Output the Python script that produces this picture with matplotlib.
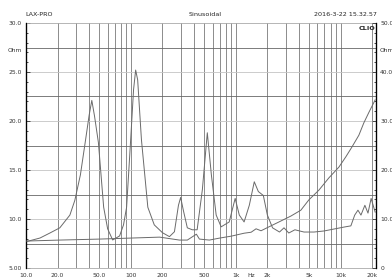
import matplotlib
matplotlib.use('Agg')
import matplotlib.pyplot as plt
from matplotlib.ticker import FixedLocator, NullFormatter, MultipleLocator

# impedance curve 1 (left axis, Ohm)
freq_a = [10, 13.6, 16.9, 21, 26.2, 29.2, 33, 37, 40, 42.4, 45, 49, 55, 60, 67, 78, 85, 91,
          99.5, 106, 111, 116, 126, 145, 167, 200, 233, 260, 284, 298, 316, 345, 385,
          428, 480, 535, 585, 650, 725, 865, 986, 1080, 1200, 1345, 1500, 1640, 1830,
          2000, 2240, 2610, 2880, 3200, 3660, 4470, 5570, 6950, 8660, 10800, 12500,
          13600, 14600, 15600, 17000, 18200, 19500, 21300]
ohm_a = [7.68, 8.06, 8.57, 9.1, 10.4, 11.9, 14.5, 18.1, 20.6, 22.1, 20.5, 17.8, 11.2, 9.0, 7.86,
         8.27, 9.4, 11.2, 18.1, 23.2, 25.2, 24.2, 18.1, 11.2, 9.4, 8.6, 8.2, 8.7, 11.4,
         12.2, 10.9, 9.1, 8.9, 8.9, 13.0, 18.8, 14.5, 10.4, 9.2, 9.7, 12.1, 10.4, 9.7,
         11.4, 13.8, 12.8, 12.4, 10.4, 9.1, 8.67, 9.1, 8.57, 8.9, 8.67, 8.67, 8.78, 8.98,
         9.18, 9.3, 10.4, 10.9, 10.4, 11.4, 10.6, 12.1, 10.7]

# impedance curve 2 (right axis, Ohm)
freq_b = [10, 21, 50, 97, 188, 290, 345, 394, 421, 450, 560, 698, 905, 1200, 1400, 1560,
          1740, 2070, 2580, 3350, 4170, 4970, 6200, 7720, 9620, 11200, 12800, 14900,
          16600, 18600, 21300]
ohm_b = [5.5, 5.7, 5.9, 6.1, 6.3, 5.7, 5.7, 6.5, 6.9, 5.9, 5.7, 6.1, 6.5, 7.1, 7.3, 8.0,
         7.6, 8.4, 9.4, 10.6, 11.8, 13.9, 15.9, 18.4, 20.6, 22.7, 24.7, 27.1, 29.6, 31.8,
         34.3]

xtick_vals = [10, 20, 50, 100, 200, 500, 1000, 1400, 2000, 5000, 10000, 20000]
xtick_text = ['10.0', '20.0', '50.0', '100', '200', '500', '1k', 'Hz', '2k', '5k', '10k', '20k']
left_vals = [5, 10, 15, 20, 25, 30]
left_text = ['5.00', '10.0', '15.0', '20.0', '25.0', '30.0']
right_vals = [0, 10, 20, 30, 40, 50]
right_text = ['0', '10.0', '20.0', '30.0', '40.0', '50.0']

fig = plt.figure(figsize=(3.92, 2.77), dpi=100)
ax = fig.add_axes([26 / 392, 9 / 277, 350 / 392, 245 / 277])
ax.set_xscale('log')
ax.set_xlim(10, 21700)
ax.set_ylim(5, 30)

# grid
for dec in [10, 100, 1000, 10000]:
    for m in range(1, 10):
        f = dec * m
        if 10 < f < 21700:
            ax.axvline(f, color='#7a7a7a', lw=0.6, zorder=1)
for i, v in enumerate([7.5, 10, 12.5, 15, 17.5, 20, 22.5, 25, 27.5]):
    c = '#666666' if i % 2 == 0 else '#c4c4c4'
    ax.axhline(v, color=c, lw=0.6, zorder=1)

ax.plot(freq_a, ohm_a, color='#6a6a6a', lw=0.7, zorder=3)

ax2 = ax.twinx()
ax2.set_ylim(0, 50)
ax2.plot(freq_b, ohm_b, color='#6a6a6a', lw=0.7, zorder=3)

for s in ['top', 'bottom']:
    ax.spines[s].set_color('#aaaaaa')
    ax.spines[s].set_linewidth(0.6)
    ax2.spines[s].set_visible(False)
ax.spines['left'].set_linewidth(0.9)
ax2.spines['right'].set_linewidth(0.9)

ax.xaxis.set_major_locator(FixedLocator(xtick_vals))
ax.xaxis.set_minor_formatter(NullFormatter())
ax.set_xticklabels(xtick_text)
ax.tick_params(axis='x', which='both', length=0, labelsize=4.3, pad=3.5, colors='#333333')

ax.set_yticks(left_vals)
ax.set_yticklabels(left_text)
ax.yaxis.set_minor_locator(MultipleLocator(1))
ax.tick_params(axis='y', which='major', direction='in', length=3, width=0.6,
               labelsize=4.3, pad=3, colors='#333333')
ax.tick_params(axis='y', which='minor', direction='in', length=1.5, width=0.5)

ax2.set_yticks(right_vals)
ax2.set_yticklabels(right_text)
ax2.yaxis.set_minor_locator(MultipleLocator(2))
ax2.tick_params(axis='y', which='major', direction='in', length=3, width=0.6,
                labelsize=4.3, pad=3, colors='#333333')
ax2.tick_params(axis='y', which='minor', direction='in', length=1.5, width=0.5)

fig.text(8 / 392, 1 - 50 / 277, 'Ohm', fontsize=4.3, va='center', color='#333333')
fig.text(380 / 392, 1 - 50 / 277, 'Ohm', fontsize=4.3, va='center', color='#333333')
fig.text(25 / 392, 1 - 14 / 277, 'LAX-PRO', fontsize=4.6, va='center', color='#222222')
fig.text(205 / 392, 1 - 14 / 277, 'Sinusoidal', fontsize=4.6, va='center', ha='center', color='#222222')
fig.text(377 / 392, 1 - 14 / 277, '2016-3-22 15.32.57', fontsize=4.6, va='center', ha='right', color='#222222')
fig.text(375 / 392, 1 - 28 / 277, 'CLIO', fontsize=4.6, va='center', ha='right',
         fontweight='bold', color='#222222')

fig.savefig('out.png', dpi=100, facecolor='white')
